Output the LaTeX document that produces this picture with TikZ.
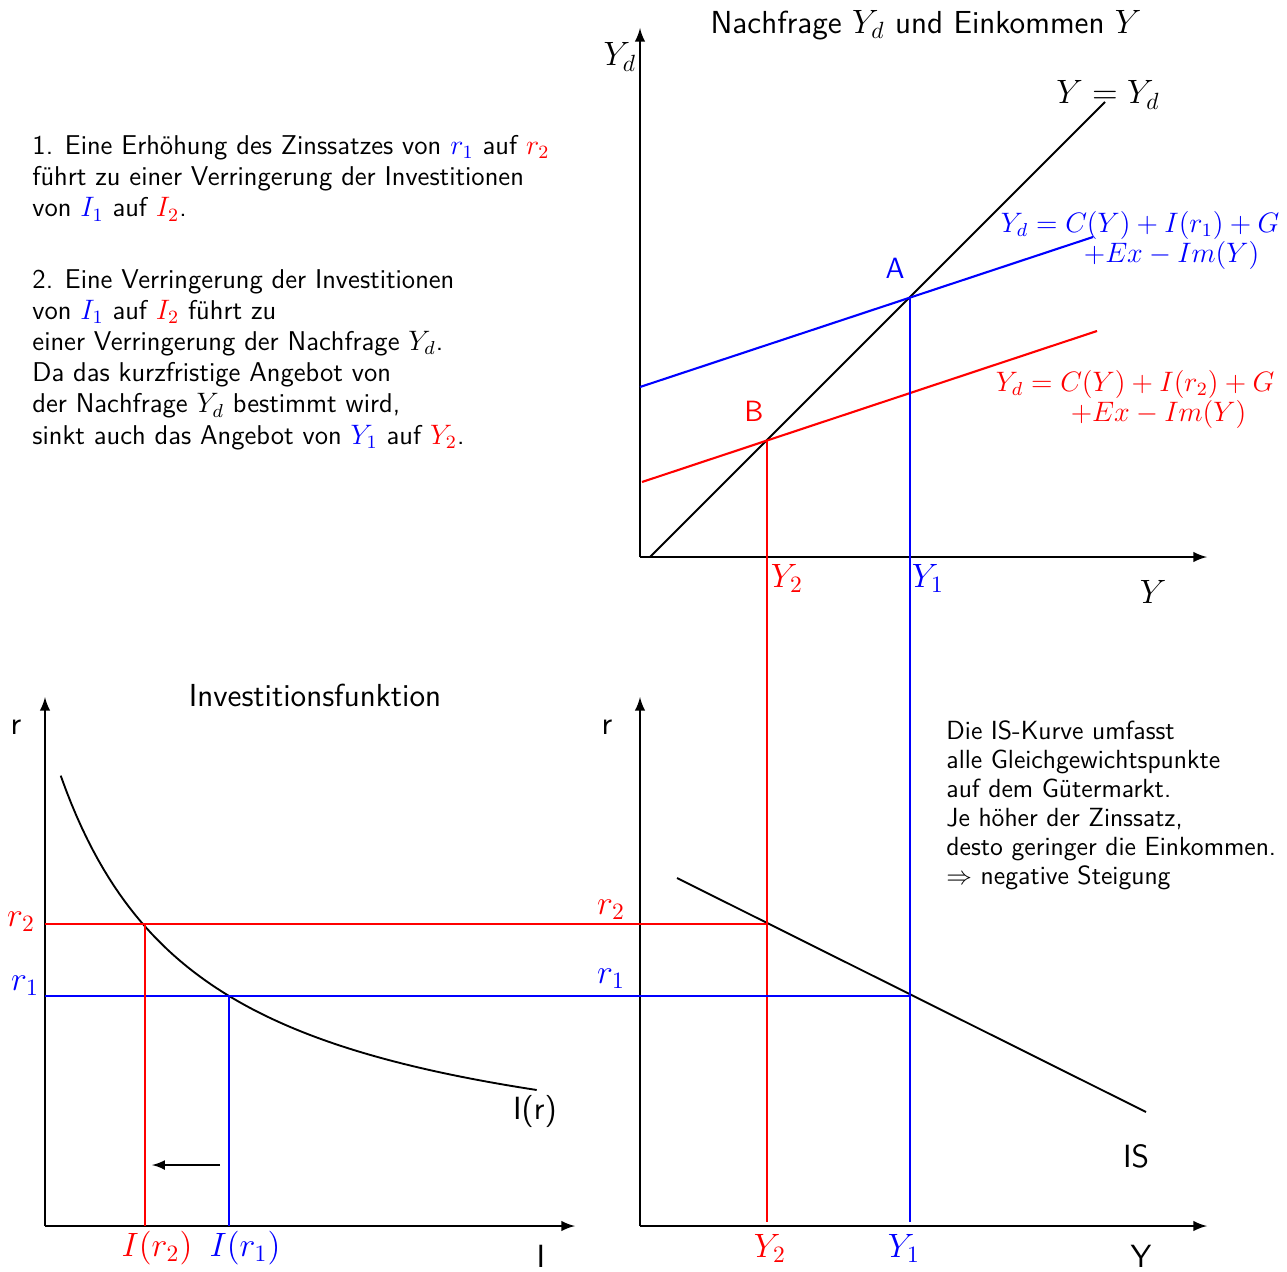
\documentclass[tikz,border=0pt]{standalone}
\usepackage{xcolor}
\usetikzlibrary{arrows}
\tikzset{
  achse/.style={line width=1pt,-latex},
  rotlinie/.style={red,line width=0.9pt},
  blaulinie/.style={blue,line width=0.9pt},
  kurve/.style={black,line width=0.8pt},
  lbl/.style={font=\sffamily\fontsize{13.7}{16}\selectfont,inner sep=1pt},
  mlbl/.style={font=\fontsize{13.6}{16}\selectfont,inner sep=1pt},
  glg/.style={font=\fontsize{11.6}{14}\selectfont,inner sep=1pt,anchor=west},
  punkt/.style={font=\sffamily\fontsize{12.5}{15}\selectfont,inner sep=1pt},
  titel/.style={font=\sffamily\fontsize{13.6}{16}\selectfont,inner sep=0pt},
  absatz/.style={font=\sffamily\fontsize{11.6}{13.3}\selectfont,align=left,anchor=north west,inner sep=0pt},
}
\begin{document}
\begin{tikzpicture}[x=0.015cm,y=-0.015cm]
    \useasboundingbox (0,0) rectangle (1287,1271);

    % Punkte oben: Nachfrage und Einkommen
    \coordinate (O1) at (640,557);
    \coordinate (O1y) at (640,28);
    \coordinate (O1x) at (1207,557);
    \coordinate (W1) at (650,557);
    \coordinate (W2) at (1105,102);
    \coordinate (A) at (910,297);
    \coordinate (B) at (767,440);
    \coordinate (Bl1) at (640,387);
    \coordinate (Bl2) at (1093,237);
    \coordinate (Rt1) at (642,482);
    \coordinate (Rt2) at (1097,331);

    % Punkte unten links: Investitionsfunktion
    \coordinate (O2) at (45,1226);
    \coordinate (O2y) at (45,697);
    \coordinate (O2x) at (575,1226);
    \coordinate (P2) at (145,924);
    \coordinate (P1) at (229,996);
    \coordinate (P2b) at (145,1226);
    \coordinate (P1b) at (229,1226);
    \coordinate (R2l) at (45,924);
    \coordinate (R1l) at (45,996);
    \coordinate (Pf1) at (220,1165);
    \coordinate (Pf2) at (152,1165);

    % Punkte unten rechts: IS-Kurve
    \coordinate (O3) at (640,1226);
    \coordinate (O3y) at (640,697);
    \coordinate (O3x) at (1207,1226);
    \coordinate (S1) at (677,878);
    \coordinate (S2) at (1146,1112);
    \coordinate (Q2) at (767,924);
    \coordinate (Q1) at (910,996);
    \coordinate (Q2b) at (767,1222);
    \coordinate (Q1b) at (910,1222);

    % Achsen
    \draw[achse] (O1) -- (O1y);
    \draw[achse] (O1) -- (O1x);
    \draw[achse] (O2) -- (O2y);
    \draw[achse] (O2) -- (O2x);
    \draw[achse] (O3) -- (O3y);
    \draw[achse] (O3) -- (O3x);

    % Kurven
    \draw[kurve] (W1) -- (W2);
    \draw[blaulinie] (Bl1) -- (Bl2);
    \draw[rotlinie] (Rt1) -- (Rt2);
    \draw[kurve] plot[domain=60.7:536.7,samples=90] (\x,{1185.7-594.07/(0.01*\x+0.842)});
    \draw[kurve] (S1) -- (S2);

    % Hilfslinien
    \draw[blaulinie] (A) -- (Q1b);
    \draw[rotlinie] (B) -- (Q2b);
    \draw[rotlinie] (R2l) -- (Q2);
    \draw[blaulinie] (R1l) -- (Q1);
    \draw[rotlinie] (P2) -- (P2b);
    \draw[blaulinie] (P1) -- (P1b);
    \draw[line width=0.9pt,-latex] (Pf1) -- (Pf2);

    % Beschriftung oben
    \node[titel] (t1) at (926,25) {Nachfrage $Y_d$ und Einkommen $Y$};
    \node[mlbl] (lyd) at (620,57) {$Y_d$};
    \node[mlbl] (lyy) at (1108,95) {$Y = Y_d$};
    \node[mlbl] (ly) at (1153,592) {$Y$};
    \node[mlbl,red] (ly2o) at (787,578) {$Y_2$};
    \node[mlbl,blue] (ly1o) at (928,578) {$Y_1$};
    \node[punkt,blue] (la) at (895,268) {A};
    \node[punkt,red] (lb) at (754,411) {B};
    \node[glg,blue] (eb1) at (998,225) {$Y_d = C(Y) + I(r_1) + G$};
    \node[glg,blue] (eb2) at (1081,255) {$+Ex - Im(Y)$};
    \node[glg,red] (er1) at (993,384) {$Y_d = C(Y) + I(r_2) + G$};
    \node[glg,red] (er2) at (1068,414) {$+Ex - Im(Y)$};

    % Beschriftung unten links
    \node[titel] (t2) at (315,695) {Investitionsfunktion};
    \node[lbl] (lr1) at (16,727) {r};
    \node[mlbl,red] (lr2l) at (21,922) {$r_2$};
    \node[mlbl,blue] (lr1l) at (25,986) {$r_1$};
    \node[mlbl,red] (li2) at (157,1248) {$I(r_2)$};
    \node[mlbl,blue] (li1) at (245,1248) {$I(r_1)$};
    \node[lbl] (li) at (541,1256) {I};
    \node[lbl] (lir) at (535,1111) {I(r)};

    % Beschriftung unten rechts
    \node[lbl] (lr2) at (607,727) {r};
    \node[mlbl,red] (lr2m) at (611,910) {$r_2$};
    \node[mlbl,blue] (lr1m) at (611,979) {$r_1$};
    \node[mlbl,red] (ly2u) at (770,1248) {$Y_2$};
    \node[mlbl,blue] (ly1u) at (904,1248) {$Y_1$};
    \node[lbl] (lyu) at (1141,1256) {Y};
    \node[lbl] (lis) at (1136,1156) {IS};

    % Texte
    \node[absatz] (txt1) at (32,135) {1. Eine Erh\"ohung des Zinssatzes von \textcolor{blue}{$r_1$} auf \textcolor{red}{$r_2$}\\
      f\"uhrt zu einer Verringerung der Investitionen\\
      von \textcolor{blue}{$I_1$} auf \textcolor{red}{$I_2$}.};
    \node[absatz] (txt2) at (32,269) {2. Eine Verringerung der Investitionen\\
      von \textcolor{blue}{$I_1$} auf \textcolor{red}{$I_2$} f\"uhrt zu\\
      einer Verringerung der Nachfrage $Y_d$.\\
      Da das kurzfristige Angebot von\\
      der Nachfrage $Y_d$ bestimmt wird,\\
      sinkt auch das Angebot von \textcolor{blue}{$Y_1$} auf \textcolor{red}{$Y_2$}.};
    \node[absatz,font=\sffamily\fontsize{11.2}{12.4}\selectfont] (txt3) at (946,720) {Die IS-Kurve umfasst\\
      alle Gleichgewichtspunkte\\
      auf dem G\"utermarkt.\\
      Je h\"oher der Zinssatz,\\
      desto geringer die Einkommen.\\
      $\Rightarrow$ negative Steigung};

\end{tikzpicture}
\end{document}
